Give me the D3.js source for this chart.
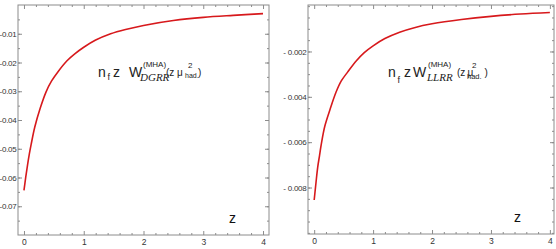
<!DOCTYPE html>
<html>
<head>
<meta charset="utf-8">
<script src="https://cdnjs.cloudflare.com/ajax/libs/d3/7.8.5/d3.min.js"></script>
<style>
  body { margin: 0; background: #fff; }
  svg { display: block; }
  .tick text { font-family: "Liberation Sans", Arial, sans-serif; fill: #333; }
  .tick line { stroke: #8c8c8c; }
  .domain { display: none; }
</style>
</head>
<body>
<div id="chart"></div>
<script>
// values
var zValues = [0, 0.03, 0.06, 0.09, 0.12, 0.18, 0.27, 0.37, 0.46, 0.57, 0.72, 0.85, 1.0, 1.2, 1.45, 1.7, 2.0, 2.5, 3.0, 3.5, 4.0];
var dgrrValues = [-0.0645, -0.0598, -0.0556, -0.0518, -0.0485, -0.0425, -0.0360, -0.0302, -0.0265, -0.0232, -0.0194, -0.0170, -0.0147, -0.0122, -0.0100, -0.0085, -0.0071, -0.0054, -0.0043, -0.0036, -0.0030];
var llrrValues = [-0.00855, -0.0078, -0.0071, -0.0066, -0.0061, -0.0053, -0.00455, -0.0038, -0.0033, -0.0029, -0.00240, -0.00205, -0.00175, -0.00143, -0.00115, -0.00095, -0.00078, -0.00059, -0.00045, -0.00035, -0.00028];
var xTicks = [0, 1, 2, 3, 4];
var dgrrTicks = [-0.07, -0.06, -0.05, -0.04, -0.03, -0.02, -0.01];
var llrrTicks = [-0.008, -0.006, -0.004, -0.002];

var width = 556, height = 249;

var svg = d3.select("#chart").append("svg")
    .attr("width", width)
    .attr("height", height);

function drawPanel(cfg) {
    var x = d3.scaleLinear().domain(cfg.xDomain).range([cfg.left, cfg.right]);
    var y = d3.scaleLinear().domain(cfg.yDomain).range([cfg.bottom, cfg.top]);
    var g = svg.append("g");

    var xMinor = d3.range(0, 4.01, 0.2).filter(function(d) { return Math.abs(d - Math.round(d)) > 0.01; });
    var yMinor = d3.range(cfg.yDomain[0], cfg.yDomain[1], cfg.minorStep)
        .map(function(d) { return Math.round(d / cfg.minorStep) * cfg.minorStep; })
        .filter(function(d) { return y(d) > cfg.top + 1 && y(d) < cfg.bottom - 1; });

    // major ticks with labels
    g.append("g")
        .attr("transform", "translate(0," + cfg.bottom + ")")
        .call(d3.axisBottom(x).tickValues(xTicks).tickSize(-4).tickPadding(4).tickFormat(d3.format("d")))
        .selectAll("text").style("font-size", "8.5px");
    g.append("g")
        .attr("transform", "translate(" + cfg.left + ",0)")
        .call(d3.axisLeft(y).tickValues(cfg.yTicks).tickSize(-4).tickPadding(1.5).tickFormat(cfg.format))
        .selectAll("text").style("font-size", "8px").style("letter-spacing", "-0.25px");

    // mirrored ticks on top and right
    g.append("g")
        .attr("transform", "translate(0," + cfg.top + ")")
        .call(d3.axisTop(x).tickValues(xTicks).tickSize(-4).tickFormat(""));
    g.append("g")
        .attr("transform", "translate(" + cfg.right + ",0)")
        .call(d3.axisRight(y).tickValues(cfg.yTicks).tickSize(-4).tickFormat(""));

    // minor ticks
    [["bottom", cfg.bottom], ["top", cfg.top]].forEach(function(p) {
        var ax = p[0] === "bottom" ? d3.axisBottom(x) : d3.axisTop(x);
        g.append("g")
            .attr("transform", "translate(0," + p[1] + ")")
            .call(ax.tickValues(xMinor).tickSize(-2).tickFormat(""));
    });
    [["left", cfg.left], ["right", cfg.right]].forEach(function(p) {
        var ax = p[0] === "left" ? d3.axisLeft(y) : d3.axisRight(y);
        g.append("g")
            .attr("transform", "translate(" + p[1] + ",0)")
            .call(ax.tickValues(yMinor).tickSize(-2).tickFormat(""));
    });

    g.append("rect")
        .attr("x", cfg.left)
        .attr("y", cfg.top)
        .attr("width", cfg.right - cfg.left)
        .attr("height", cfg.bottom - cfg.top)
        .attr("fill", "none")
        .attr("stroke", "#8c8c8c")
        .attr("stroke-width", 1);

    var line = d3.line()
        .x(function(d, i) { return x(zValues[i]); })
        .y(function(d) { return y(d); })
        .curve(d3.curveCatmullRom.alpha(0.5));

    g.append("path")
        .attr("d", line(cfg.values))
        .attr("fill", "none")
        .attr("stroke", "#d7191c")
        .attr("stroke-width", 1.6);

    g.append("text")
        .attr("x", cfg.zLabel[0])
        .attr("y", cfg.zLabel[1])
        .attr("font-family", "Liberation Sans, Arial, sans-serif")
        .attr("font-size", 14)
        .attr("fill", "#111")
        .text("z");

    // annotation pieces
    cfg.label.forEach(function(p) {
        g.append("text")
            .attr("x", p.x)
            .attr("y", p.y)
            .attr("font-family", p.serif ? "Liberation Serif, Times New Roman, serif" : "Liberation Sans, Arial, sans-serif")
            .attr("font-style", p.serif ? "italic" : "normal")
            .attr("font-size", p.size)
            .attr("fill", "#222")
            .text(p.t);
    });
}

drawPanel({
    left: 18, right: 269, top: 5, bottom: 235,
    xDomain: [-0.1, 4.1],
    yDomain: [-0.08, 0],
    yTicks: dgrrTicks,
    minorStep: 0.005,
    format: function(d) { return d.toFixed(2); },
    values: dgrrValues,
    zLabel: [229, 223],
    label: [
        {t: "n", x: 98, y: 77, size: 14},
        {t: "f", x: 107.5, y: 80, size: 9},
        {t: "z", x: 113, y: 77, size: 14},
        {t: "W", x: 129, y: 77, size: 14},
        {t: "(MHA)", x: 143, y: 66.5, size: 8},
        {t: "DGRR", x: 140, y: 81, size: 11, serif: true},
        {t: "(z \u03bc", x: 166, y: 76, size: 10},
        {t: "2", x: 188, y: 68, size: 8},
        {t: "had.", x: 185, y: 78, size: 7},
        {t: ")", x: 198, y: 76, size: 10}
    ]
});

drawPanel({
    left: 308, right: 554, top: 5, bottom: 234,
    xDomain: [-0.105, 4.07],
    yDomain: [-0.01005, 0.00005],
    yTicks: llrrTicks,
    minorStep: 0.0005,
    format: function(d) { return "- " + Math.abs(d).toFixed(3); },
    values: llrrValues,
    zLabel: [514, 222],
    label: [
        {t: "n", x: 388, y: 77, size: 14},
        {t: "f", x: 397.5, y: 83, size: 9},
        {t: "z", x: 404, y: 77, size: 14},
        {t: "W", x: 413, y: 77, size: 14},
        {t: "(MHA)", x: 428, y: 66.5, size: 8},
        {t: "LLRR", x: 427, y: 81, size: 11, serif: true},
        {t: "(z", x: 457, y: 76, size: 10},
        {t: "\u03bc", x: 467.5, y: 76, size: 10},
        {t: "2", x: 472, y: 68, size: 8},
        {t: "had.", x: 467, y: 78.5, size: 7.5},
        {t: ")", x: 484.5, y: 76, size: 10}
    ]
});
</script>
</body>
</html>
